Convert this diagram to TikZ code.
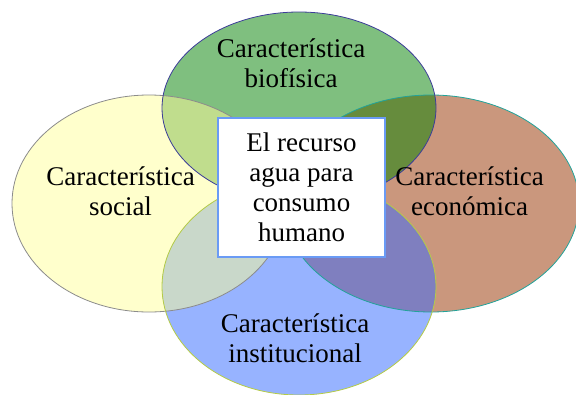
\documentclass[tikz,border=0pt]{standalone}
\usepackage{fontspec}
\setmainfont{Liberation Serif}
\definecolor{cT}{HTML}{7FBF7F}
\definecolor{cL}{HTML}{FFFFCC}
\definecolor{cR}{HTML}{CA977D}
\definecolor{cB}{HTML}{97B3FF}
\definecolor{cTL}{HTML}{C0DD8D}
\definecolor{cTR}{HTML}{668C3D}
\definecolor{cBL}{HTML}{C9D8CA}
\definecolor{cBR}{HTML}{7F7FBF}
\definecolor{oT}{HTML}{3D3D99}
\definecolor{oL}{HTML}{8C8C8C}
\definecolor{oR}{HTML}{22A39A}
\definecolor{oB}{HTML}{B5CC45}
\definecolor{boxblue}{HTML}{6A9BF5}
\begin{document}
\begin{tikzpicture}[x=1pt,y=-1pt,
  txt/.style={inner sep=0pt, align=center, font=\fontsize{27}{30}\selectfont},
  ring/.style={line width=0.8pt}]
\useasboundingbox (0,0) rectangle (576,394);
\clip (0,0) rectangle (576,394);
% base fills
\fill[cL] (149,203.5) ellipse [x radius=137pt, y radius=108.5pt];
\fill[cR] (431,203.5) ellipse [x radius=148pt, y radius=108.5pt];
\fill[cT] (299,108) ellipse [x radius=137pt, y radius=96pt];
\fill[cB] (299,286.5) ellipse [x radius=137pt, y radius=108.5pt];
% overlaps with the top ellipse
\begin{scope}
  \clip (299,108) ellipse [x radius=137pt, y radius=96pt];
  \fill[cTL] (149,203.5) ellipse [x radius=137pt, y radius=108.5pt];
  \fill[cTR] (431,203.5) ellipse [x radius=148pt, y radius=108.5pt];
\end{scope}
% overlaps with the bottom ellipse
\begin{scope}
  \clip (299,286.5) ellipse [x radius=137pt, y radius=108.5pt];
  \fill[cBL] (149,203.5) ellipse [x radius=137pt, y radius=108.5pt];
  \fill[cBR] (431,203.5) ellipse [x radius=148pt, y radius=108.5pt];
\end{scope}
% outlines
\draw[ring, oL] (149,203.5) ellipse [x radius=137pt, y radius=108.5pt];
\draw[ring, oR] (431,203.5) ellipse [x radius=148pt, y radius=108.5pt];
\draw[ring, oT] (299,108) ellipse [x radius=137pt, y radius=96pt];
\draw[ring, oB] (299,286.5) ellipse [x radius=137pt, y radius=108.5pt];
% labels
\node[txt] (bio) at (291,63.5) {Característica\\biofísica};
\node[txt] (soc) at (120.5,191.7) {Característica\\social};
\node[txt] (eco) at (469.5,191.2) {Característica\\económica};
\node[txt] (ins) at (295,338.7) {Característica\\institucional};
% central box
\node[txt, draw=boxblue, line width=2pt, fill=white, minimum width=167pt,
      minimum height=139pt] (box) at (301.5,187.5)
      {El recurso\\agua para\\consumo\\humano};
\end{tikzpicture}
\end{document}
